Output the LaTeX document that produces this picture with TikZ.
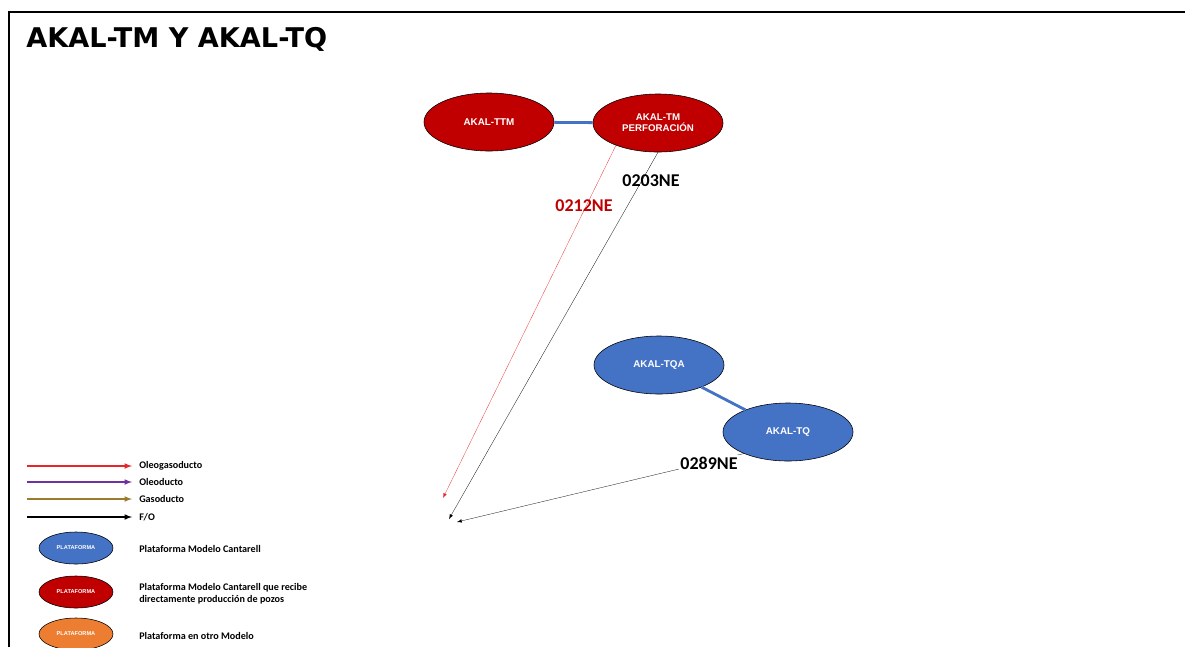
\documentclass[tikz,border=0pt]{standalone}
\usepackage{fontspec}
\setmainfont{Carlito}
\newfontfamily\arialfont{Liberation Sans}
\newfontfamily\verdanafont{DejaVu Sans}
\usetikzlibrary{shapes.geometric, arrows}
\definecolor{pxred}{HTML}{C00000}
\definecolor{pxblue}{HTML}{4472C4}
\definecolor{pxorange}{HTML}{ED7D31}
\definecolor{pxpurple}{HTML}{7030A0}
\definecolor{pxgold}{HTML}{9C7B2F}
\definecolor{pxline}{HTML}{E8262A}

\begin{document}
\begin{tikzpicture}[x=0.025cm, y=-0.025cm, >=latex]
    \tikzstyle{plat}=[shape=ellipse,draw=black,thin,inner sep=0pt,minimum width=3.25cm,minimum height=1.45cm,text=white,align=center,font=\arialfont\bfseries\fontsize{7}{8}\selectfont]
    \tikzstyle{redplat}=[plat, fill=pxred]
    \tikzstyle{blueplat}=[plat, fill=pxblue]
    \tikzstyle{orangeplat}=[plat, fill=pxorange]
    \tikzstyle{smallplat}=[minimum width=1.85cm, minimum height=0.8cm, font=\arialfont\bfseries\fontsize{4}{5}\selectfont]
    \tikzstyle{duct}=[inner sep=1pt, font=\bfseries\fontsize{12.8}{14}\selectfont]
    \tikzstyle{legend}=[anchor=west, inner sep=0pt, align=left, font=\bfseries\fontsize{7.2}{8.8}\selectfont]
    \tikzstyle{link}=[draw=pxblue, line width=2pt]

    \useasboundingbox (0,0) rectangle (1185,647);
    \draw[line width=1.4pt] (9,647) -- (9,12) -- (1185,12);

    \node[anchor=west, inner sep=0pt, font=\verdanafont\bfseries\fontsize{19.3}{22}\selectfont] (title) at (26,39) {AKAL-TM Y AKAL-TQ};

    % plataformas
    \node[redplat] (ttm) at (489,122) {AKAL-TTM};
    \node[redplat, font=\arialfont\bfseries\fontsize{6.9}{8}\selectfont] (tmp) at (658,123) {AKAL-TM\\PERFORACIÓN};
    \node[blueplat] (tqa) at (659,365) {AKAL-TQA};
    \node[blueplat] (tq) at (788,432) {AKAL-TQ};

    \coordinate (ea) at (443,498);
    \coordinate (eb) at (449,519);
    \coordinate (ec) at (457,522);

    \path[link] (ttm) -- (tmp);
    \path[link] (tqa) -- (tq);

    \draw[->, pxline, very thin] (tmp.208) -- (ea);
    \draw[->, black, very thin] (tmp.south) -- (eb);
    \draw[->, black, very thin] (tq.206) -- (ec);

    \node[duct] (d203) at (651,181) {0203NE};
    \node[duct, text=pxred] (d212) at (584,206) {0212NE};
    \node[duct, fill=white] (d289) at (709,463) {0289NE};

    % simbologia
    \coordinate (la1) at (27,466); \coordinate (lb1) at (132,466);
    \coordinate (la2) at (27,482); \coordinate (lb2) at (132,482);
    \coordinate (la3) at (27,499); \coordinate (lb3) at (132,499);
    \coordinate (la4) at (27,517); \coordinate (lb4) at (132,517);
    \draw[->, pxline, line width=0.8pt] (la1) -- (lb1);
    \draw[->, pxpurple, line width=0.8pt] (la2) -- (lb2);
    \draw[->, pxgold, line width=0.8pt] (la3) -- (lb3);
    \draw[->, black, line width=0.8pt] (la4) -- (lb4);
    \node[legend] (t1) at (139,466) {Oleogasoducto};
    \node[legend] (t2) at (139,482) {Oleoducto};
    \node[legend] (t3) at (139,499) {Gasoducto};
    \node[legend] (t4) at (139,517) {F/O};

    \node[blueplat, smallplat] (p1) at (76,548) {PLATAFORMA};
    \node[redplat, smallplat] (p2) at (76,592) {PLATAFORMA};
    \node[orangeplat, smallplat] (p3) at (76,634) {PLATAFORMA};
    \node[legend] (t5) at (139,549) {Plataforma Modelo Cantarell};
    \node[legend] (t6) at (139,594) {Plataforma Modelo Cantarell que recibe\\directamente producción de pozos};
    \node[legend] (t7) at (139,636) {Plataforma en otro Modelo};
\end{tikzpicture}
\end{document}
